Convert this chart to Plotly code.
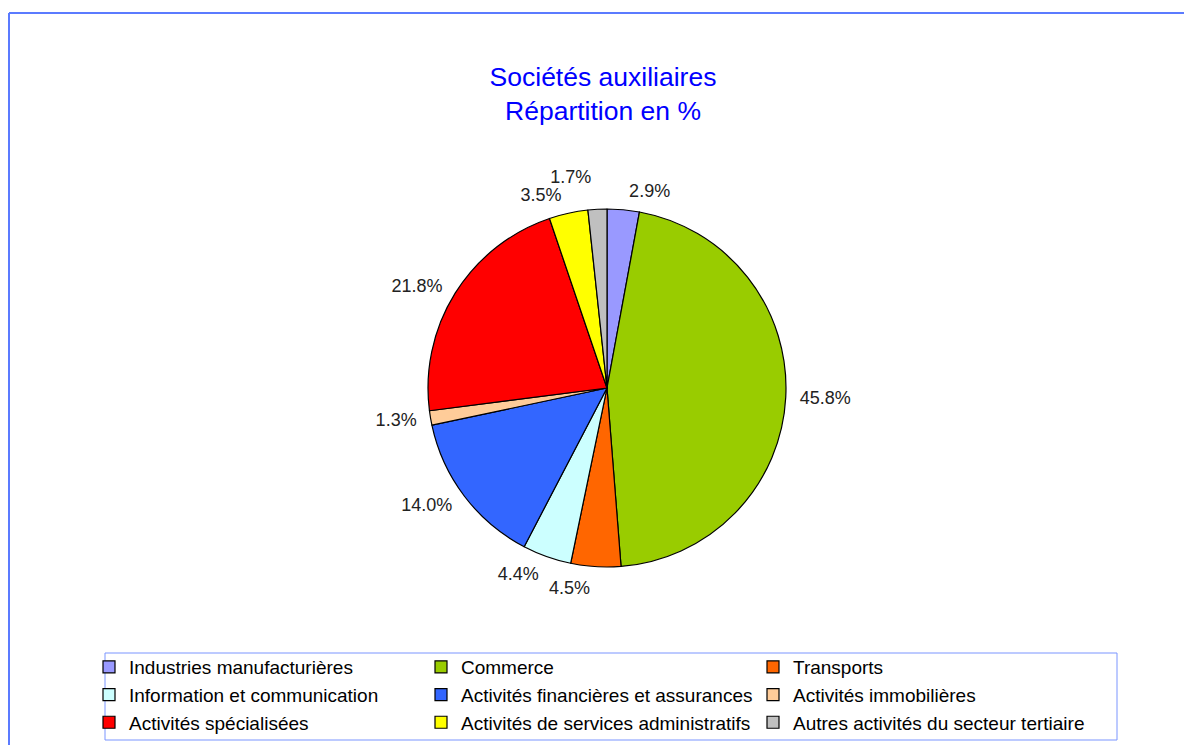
import plotly.graph_objects as go

# Data
labels = ["Industries manufacturières", "Commerce", "Transports",
          "Information et communication", "Activités financières et assurances",
          "Activités immobilières", "Activités spécialisées",
          "Activités de services administratifs", "Autres activités du secteur tertiaire"]
values = [2.9, 45.8, 4.5, 4.4, 14.0, 1.3, 21.8, 3.5, 1.7]
colors = ["#9999FF", "#99CC00", "#FF6600", "#CCFFFF", "#3366FF",
          "#FFCC99", "#FF0000", "#FFFF00", "#C0C0C0"]

W, H = 1192, 745
FONT = "Liberation Sans, Arial, sans-serif"
OFF = 8  # page body margin


# convert screen pixel positions to paper fractions
def px_x(x):
    return (x - OFF) / W


def px_y(y):
    return 1 - (y - OFF) / H


def dom(r):
    return dict(x=[px_x(CX - r), px_x(CX + r)], y=[px_y(CY + r), px_y(CY - r)])


R = 179
CX, CY = 607, 388
texts = [f"{v:.1f}%" for v in values]
# percent labels are drawn by transparent pies; crowded small slices get their own
# layer (and radius) so plotly does not push them aside with leader lines
label_layers = [
    (188, [lab for lab in labels if lab not in ("Transports", "Autres activités du secteur tertiaire")]),
    (190, ["Transports"]),
    (201, ["Autres activités du secteur tertiaire"]),
]

fig = go.Figure()
fig.add_trace(go.Pie(
    labels=labels, values=values, textinfo="none",
    sort=False, direction="clockwise", rotation=0,
    marker=dict(colors=colors, line=dict(color="black", width=1.2)),
    domain=dom(R), hoverinfo="label+percent",
))
for r_txt, members in label_layers:
    fig.add_trace(go.Pie(
        labels=labels, values=values, text=texts, textinfo="text",
        textposition=["outside" if lab in members else "none" for lab in labels],
        sort=False, direction="clockwise", rotation=0,
        marker=dict(colors=["rgba(0,0,0,0)"] * len(values), line=dict(width=0)),
        outsidetextfont=dict(family=FONT, size=18, color="#222222"),
        domain=dom(r_txt), hoverinfo="skip", showlegend=False,
    ))

# frame lines and legend box
fig.add_shape(type="line", xref="paper", yref="paper", x0=px_x(9), x1=1, y0=px_y(13), y1=px_y(13),
              line=dict(color="#5B7BFF", width=2))
fig.add_shape(type="line", xref="paper", yref="paper", x0=px_x(9), x1=px_x(9), y0=px_y(13), y1=0,
              line=dict(color="#5B7BFF", width=2))
fig.add_shape(type="rect", xref="paper", yref="paper", x0=px_x(105), x1=px_x(1117),
              y0=px_y(740), y1=px_y(653), line=dict(color="#7A95FF", width=1))

fig.update_layout(
    width=W, height=H,
    margin=dict(l=0, r=0, t=0, b=0),
    paper_bgcolor="white", plot_bgcolor="white",
    title=dict(text="Sociétés auxiliaires<br>Répartition en %", x=px_x(603), xanchor="center",
               y=px_y(86), yanchor="top", font=dict(family=FONT, size=26.5, color="#0000FF")),
    showlegend=True,
    legend=dict(orientation="h", x=px_x(89), xanchor="left", y=px_y(648), yanchor="top",
                entrywidth=287, entrywidthmode="pixels", traceorder="normal",
                font=dict(family=FONT, size=19, color="black"),
                bgcolor="rgba(0,0,0,0)", borderwidth=0, tracegroupgap=0),
)

fig.write_html("out.html")
